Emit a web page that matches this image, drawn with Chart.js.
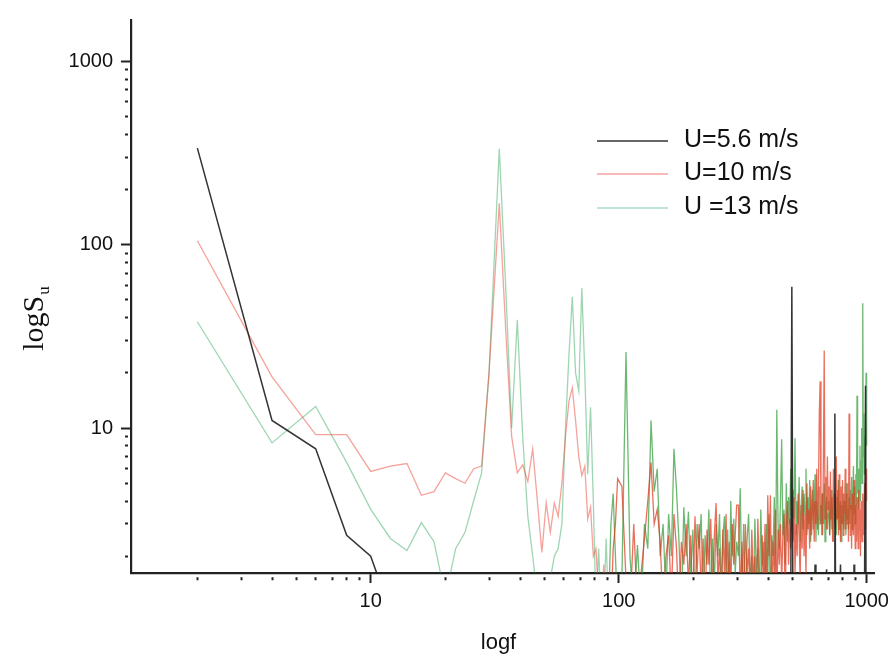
<!DOCTYPE html>
<html>
<head>
<meta charset="utf-8">
<script src="https://cdn.jsdelivr.net/npm/chart.js@4.4.1/dist/chart.umd.min.js"></script>
<style>
  html, body { margin: 0; padding: 0; background: #fff; }
</style>
</head>
<body>
<canvas id="spectrumChart" width="896" height="669"></canvas>
<script>
// frequency (Hz)
const freq = [
  2, 4, 6, 8, 10, 12, 14, 16, 18, 20, 22, 24, 26, 28, 30,
  33, 35, 37, 39, 41, 43, 45, 47, 49, 51, 53, 55, 57, 59, 61, 63, 65,
  67, 69, 71, 73, 75, 77, 79, 81, 83, 85, 87, 89, 91, 93, 95, 97, 99,
  103, 107, 111, 115, 119, 123, 127, 131, 135, 139,
  143, 147, 151, 155, 159, 163, 167, 171, 175, 179,
  183, 187, 191, 195, 199, 203, 207, 211, 215, 219,
  223, 227, 231, 235, 239, 243, 247, 251, 255, 259,
  263, 267, 271, 275, 279, 283, 287, 291, 295, 299,
  304, 309, 314, 319, 324, 329, 334, 339, 344, 349,
  354, 359, 364, 369, 374, 379, 384, 389, 394, 399,
  404, 409, 414, 419, 424, 429, 434, 439, 444, 449,
  454, 459, 464, 469, 474, 479, 484, 489, 494, 499,
  504, 509, 514, 519, 524, 529, 534, 539, 544, 549,
  554, 559, 564, 569, 574, 579, 584, 589, 594, 599,
  604, 609, 614, 619, 624, 629, 634, 639, 644, 649,
  654, 659, 664, 669, 674, 679, 684, 689, 694, 699,
  704, 709, 714, 719, 724, 729, 734, 739, 744, 749,
  754, 759, 764, 769, 774, 779, 784, 789, 794, 799,
  804, 809, 814, 819, 824, 829, 834, 839, 844, 849,
  854, 859, 864, 869, 874, 879, 884, 889, 894, 899,
  904, 909, 914, 919, 924, 929, 934, 939, 944, 949,
  954, 959, 964, 969, 974, 979, 984, 989, 994, 999,
];

// U = 5.6 m/s
const su56 = [
  336, 11, 7.7, 2.6, 2.0, 1, 1, 1, 1, 1, 1, 1, 1, 1, 1,
  1, 1, 1, 1, 1, 1, 1, 1, 1, 1, 1, 1, 1, 1, 1, 1, 1,
  1, 1, 1, 1, 1, 1, 1, 1, 1, 1, 1, 1, 1, 1, 1, 1, 1,
  1, 1, 1, 1, 1, 1, 1, 1, 1, 1,
  1, 1, 1, 1, 1, 1, 1, 1, 1, 1,
  1, 1, 1, 1, 1, 1, 1, 1, 1, 1,
  1, 1, 1, 1, 1, 1, 1, 1, 1, 1,
  1, 1, 1, 1, 1, 1, 1, 1, 1, 1,
  1, 1, 1, 1, 1, 1, 1, 1, 1, 1,
  1, 1, 1, 1, 1, 1, 1, 1, 1, 1,
  1, 1, 1, 1, 1, 1, 1, 1, 1, 1,
  1, 1, 1, 1, 1, 1, 1, 1, 1, 59,
  1, 1, 1, 1, 1, 1, 1, 1, 1, 1,
  1, 1, 1, 1, 1, 1, 1, 1, 1, 1,
  1, 1, 1, 1.8, 1, 1, 1, 1, 1, 1,
  1, 1, 1, 1, 1, 1, 1, 1.7, 1, 1,
  1, 1, 1, 1, 1, 1, 1, 1, 12, 1,
  1, 1, 1, 1, 1, 1, 1.8, 1, 1, 1,
  1, 1, 1, 1, 1, 1, 1, 1, 1, 1,
  1, 1, 1, 1, 1, 1, 1, 1.8, 1, 1,
  1, 1, 1, 1, 1, 1, 1, 1, 1, 1,
  1, 1, 1, 1, 1, 1, 1, 17, 1, 1,
];

// U = 10 m/s
const su10 = [
  105, 19, 9.2, 9.2, 5.8, 6.2, 6.4, 4.3, 4.5, 5.7, 5.3, 5.0, 6.0, 6.2, 20,
  168, 35, 9, 5.7, 6.3, 5.1, 7.7, 4.0, 2.1, 3.9, 2.7, 3.9, 3.3, 5.0, 9, 14, 16.6,
  11, 7, 5.5, 6.2, 3.2, 3.7, 2.0, 2.2, 1.2, 1.0, 1.8, 1.0, 1.4, 1.0, 2.2, 3.0, 5.3,
  4.8, 1.5, 1.0, 3.0, 1.0, 1.6, 2.5, 4.0, 6.5, 3.0,
  3.6, 2.4, 1.0, 2.0, 2.6, 1.2, 3.4, 2.2, 1.0, 2.4,
  1.8, 3.0, 1.4, 2.6, 1.0, 3.3, 1.6, 3.0, 1.2, 2.5,
  1.0, 2.8, 1.8, 3.2, 1.2, 2.6, 3.9, 1.5, 2.2, 1.0,
  2.8, 1.6, 3.4, 1.0, 2.4, 1.3, 3.0, 1.8, 2.6, 3.8,
  3.8, 1.2, 2.4, 1.0, 3.0, 1.6, 2.2, 1.0, 2.8, 1.4,
  2.0, 1.0, 3.2, 1.5, 1.0, 2.6, 1.2, 3.0, 1.0, 4.3,
  2.0, 4.3, 1.0, 2.4, 1.6, 3.6, 1.0, 2.8, 1.8, 3.0,
  1.4, 2.6, 3.4, 1.0, 2.8, 4.0, 1.8, 3.2, 2.2, 3.6,
  2.4, 4.2, 1.6, 3.0, 2.0, 4.4, 2.6, 1.4, 3.8, 2.2,
  4.6, 2.0, 3.4, 1.6, 5.0, 2.8, 3.6, 2.2, 4.8, 2.6,
  3.4, 5.2, 2.4, 4.0, 3.0, 6.0, 2.8, 4.6, 12, 18,
  3.0, 4.4, 2.6, 7.0, 26.5, 3.2, 5.4, 2.8, 7.0, 3.6,
  4.8, 2.6, 5.8, 3.2, 4.2, 2.4, 6.0, 3.8, 4.4, 2.8,
  7.0, 3.2, 4.6, 2.6, 5.6, 3.8, 2.4, 4.8, 3.0, 5.2,
  2.6, 4.0, 3.4, 6.0, 2.8, 4.4, 3.0, 5.0, 2.4, 12,
  4.8, 2.6, 3.8, 2.2, 4.4, 3.0, 2.6, 5.2, 3.4, 2.2,
  3.8, 2.4, 4.2, 3.0, 2.2, 4.6, 2.8, 3.6, 2.0, 4.0,
  3.0, 2.4, 4.4, 3.2, 2.6, 5.0, 3.6, 2.8, 6.0, 4.0,
];

// U = 13 m/s
const su13 = [
  38, 8.3, 13.1, 6.5, 3.6, 2.5, 2.15, 3.05, 2.4, 1.2, 2.2, 2.7, 4.0, 5.7, 20,
  333, 60, 10, 39, 9, 3.3, 2.0, 1.2, 1.0, 1.0, 1.5, 2.0, 2.2, 3.0, 10, 25, 52,
  20, 16, 58, 20, 5.6, 13, 4, 1.0, 2.2, 1.0, 1.0, 2.5, 1.0, 3.0, 4.4, 2.0, 1.0,
  1.5, 26, 2.0, 1.0, 2.3, 1.0, 3.0, 2.2, 11, 4.5,
  6.0, 2.0, 3.0, 1.2, 3.4, 2.0, 7.7, 4.6, 2.4, 1.0,
  3.7, 2.0, 3.5, 1.5, 2.8, 1.0, 3.0, 2.2, 3.4, 1.0,
  2.6, 1.8, 3.6, 1.0, 2.5, 1.4, 3.0, 2.0, 3.4, 1.2,
  2.6, 3.3, 1.5, 2.8, 1.0, 4.0, 2.0, 3.2, 1.6, 2.4,
  2.0, 4.7, 1.2, 3.0, 1.0, 2.4, 3.4, 1.4, 2.0, 1.0,
  3.2, 1.6, 2.2, 1.0, 3.6, 1.8, 2.4, 1.0, 3.0, 1.5,
  3.4, 1.0, 2.6, 2.0, 4.2, 1.4, 12.6, 3.0, 2.2, 4.0,
  8.7, 2.6, 3.6, 1.8, 5.0, 2.4, 4.2, 3.0, 6.0, 2.8,
  4.6, 3.2, 8.8, 2.6, 4.0, 3.0, 5.4, 2.4, 3.6, 4.8,
  2.8, 4.4, 3.4, 6.0, 2.6, 4.2, 3.0, 5.2, 2.4, 3.8,
  4.6, 2.8, 3.6, 5.6, 2.4, 4.0, 3.2, 2.6, 4.8, 3.0,
  3.8, 2.6, 4.4, 3.0, 5.0, 2.4, 3.6, 4.2, 2.8, 3.4,
  4.0, 2.6, 3.4, 4.6, 2.8, 3.8, 2.4, 4.4, 3.0, 3.6,
  2.6, 4.2, 3.2, 5.2, 2.8, 3.6, 4.0, 2.4, 3.8, 3.0,
  4.4, 2.8, 3.4, 4.0, 2.6, 5.0, 3.2, 3.6, 2.8, 4.2,
  3.0, 4.6, 3.6, 5.4, 2.8, 4.0, 6.2, 3.4, 4.8, 3.0,
  5.6, 3.8, 15, 4.4, 6.0, 3.6, 5.2, 8.0, 4.0, 6.6,
  10, 5.0, 48, 7.0, 12, 5.6, 9.0, 6.0, 20, 8.0,
];

const seriesNames = ["U=5.6 m/s", "U=10 m/s", "U =13 m/s"];
const xTicks = [2, 3, 4, 5, 6, 7, 8, 9, 10, 20, 30, 40, 50, 60, 70, 80, 90,
  100, 200, 300, 400, 500, 600, 700, 800, 900, 1000];
const yTicks = [2, 3, 4, 5, 6, 7, 8, 9, 10, 20, 30, 40, 50, 60, 70, 80, 90,
  100, 200, 300, 400, 500, 600, 700, 800, 900, 1000];
const majorTicks = [10, 100, 1000];

function toPoints(values) {
  return freq.map((f, i) => ({ x: f, y: values[i] }));
}

const isMajor = (ctx) => ctx.tick && majorTicks.includes(ctx.tick.value);

// the dense high-frequency part reads darker in the original
function denseColor(color) {
  return (seg) => (seg.p0.parsed.x >= 90 ? color : undefined);
}

const axisLabels = {
  id: "axisLabels",
  afterDraw(chart) {
    const c = chart.ctx;
    const area = chart.chartArea;
    c.save();
    c.fillStyle = "#111";

    // x title
    c.font = '22px "Liberation Sans", Arial, sans-serif';
    c.textAlign = "center";
    c.textBaseline = "middle";
    c.fillText("logf", (area.left + area.right) / 2 - 4, 643);

    // y title with subscript
    c.save();
    c.translate(43, 319);
    c.rotate(-Math.PI / 2);
    c.font = '30px "Liberation Serif", "Times New Roman", serif';
    c.textAlign = "left";
    c.textBaseline = "alphabetic";
    const w = c.measureText("logS").width;
    c.font = '17px "Liberation Serif", "Times New Roman", serif';
    const wu = c.measureText("u").width;
    const start = -(w + wu) / 2;
    c.font = '30px "Liberation Serif", "Times New Roman", serif';
    c.fillText("logS", start, 0);
    c.font = '17px "Liberation Serif", "Times New Roman", serif';
    c.fillText("u", start + w + 1, 6);
    c.restore();

    // legend
    c.font = '25px "Liberation Sans", Arial, sans-serif';
    c.textAlign = "left";
    c.textBaseline = "middle";
    const rows = [141, 174, 208];
    const legendColors = ["#333333", "#f4a3a3", "#acdcc4"];
    chart.data.datasets.forEach((ds, i) => {
      c.strokeStyle = legendColors[i];
      c.lineWidth = 1.3;
      c.beginPath();
      c.moveTo(597, rows[i]);
      c.lineTo(668, rows[i]);
      c.stroke();
      c.fillStyle = "#111";
      c.fillText(ds.label, 684, rows[i] - 1);
    });
    c.restore();
  },
};

const ctx = document.getElementById("spectrumChart").getContext("2d");
const spectrumChart = new Chart(ctx, {
  type: "line",
  data: {
    datasets: [
      {
        label: seriesNames[0],
        data: toPoints(su56),
        borderColor: "rgba(30, 30, 30, 0.9)",
        borderWidth: 1.5,
      },
      {
        label: seriesNames[1],
        data: toPoints(su10),
        borderColor: "rgba(238, 70, 55, 0.5)",
        borderWidth: 1.3,
        segment: { borderColor: denseColor("rgba(225, 55, 30, 0.72)") },
      },
      {
        label: seriesNames[2],
        data: toPoints(su13),
        borderColor: "rgba(40, 165, 85, 0.45)",
        borderWidth: 1.3,
        segment: { borderColor: denseColor("rgba(40, 150, 45, 0.68)") },
      },
    ],
  },
  options: {
    responsive: false,
    animation: false,
    elements: {
      point: { radius: 0 },
      line: { tension: 0 },
    },
    datasets: { line: { clip: 0 } },
    layout: { padding: { top: 12, right: 22, bottom: 0, left: 0 } },
    scales: {
      x: {
        type: "logarithmic",
        min: 1.08,
        max: 1070,
        afterFit: (scale) => { scale.height = 96; },
        afterBuildTicks: (scale) => {
          scale.ticks = xTicks.map((v) => ({ value: v }));
        },
        border: { display: true, color: "#222", width: 2.2 },
        grid: {
          drawOnChartArea: false,
          drawTicks: true,
          tickLength: 10,
          tickColor: "#222",
          tickWidth: 2,
          tickBorderDash: (ctx) => (isMajor(ctx) ? [] : [0, 3, 3, 20]),
        },
        ticks: {
          autoSkip: false,
          maxRotation: 0,
          minRotation: 0,
          padding: 6,
          color: "#111",
          font: { family: '"Liberation Sans", Arial, sans-serif', size: 20 },
          callback: (value) => (majorTicks.includes(value) ? String(value) : ""),
        },
      },
      y: {
        type: "logarithmic",
        min: 1.62,
        max: 1680,
        afterFit: (scale) => { scale.width = 131; },
        afterBuildTicks: (scale) => {
          scale.ticks = yTicks.map((v) => ({ value: v }));
        },
        border: { display: true, color: "#222", width: 2.2 },
        grid: {
          drawOnChartArea: false,
          drawTicks: true,
          tickLength: 10,
          tickColor: "#222",
          tickWidth: 2,
          tickBorderDash: (ctx) => (isMajor(ctx) ? [] : [0, 4, 3, 20]),
        },
        ticks: {
          autoSkip: false,
          padding: 8,
          color: "#111",
          font: { family: '"Liberation Sans", Arial, sans-serif', size: 20 },
          callback: (value) => (majorTicks.includes(value) ? String(value) : ""),
        },
      },
    },
    plugins: {
      legend: { display: false },
      tooltip: { enabled: false },
    },
  },
  plugins: [axisLabels],
});
</script>
</body>
</html>
